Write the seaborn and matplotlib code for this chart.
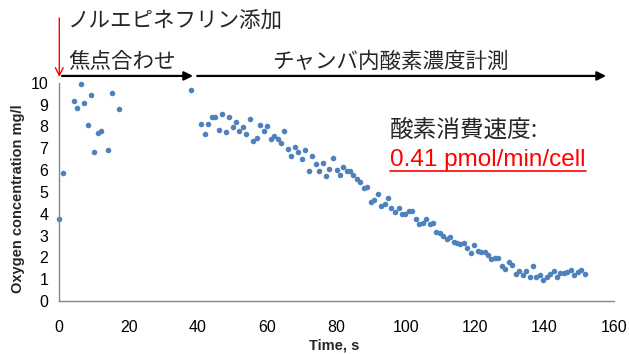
import matplotlib
matplotlib.use("Agg")
import matplotlib.pyplot as plt
from matplotlib.lines import Line2D
import seaborn as sns
import pandas as pd

# Oxygen readings during focusing (s, mg/l)
focus_time = [0.0, 1.2, 4.2, 5.1, 6.2, 7.1, 8.2, 9.2, 10.1, 11.1, 12.1, 14.1, 15.1, 17.1, 38.0]
focus_o2 = [3.75, 5.85, 9.15, 8.83, 9.94, 9.06, 8.06, 9.42, 6.83, 7.70, 7.80, 6.90, 9.53, 8.78, 9.67]

# Oxygen readings during chamber measurement (s, mg/l)
meas_time = [41.0, 42.0, 43.0, 44.1, 45.0, 46.1, 47.0, 48.1, 49.0, 50.0,
             51.0, 52.0, 53.0, 54.0, 55.0, 56.0, 57.0, 57.9, 59.0, 60.0,
             61.0, 62.0, 63.0, 64.0, 64.9, 66.0, 67.0, 68.0, 69.0, 70.0,
             70.9, 72.0, 72.9, 74.0, 74.9, 76.0, 77.0, 77.9, 78.9, 80.0,
             80.9, 82.0, 82.9, 83.9, 84.8, 85.8, 86.9, 87.9, 88.8, 89.9,
             90.8, 91.9, 92.8, 93.9, 94.9, 95.8, 96.9, 97.9, 98.8, 99.8,
             100.8, 101.9, 102.9, 103.8, 104.9, 105.8, 106.9, 107.8, 108.8, 109.9,
             110.8, 111.8, 112.8, 113.8, 114.8, 115.7, 116.8, 117.8, 118.7, 119.8,
             120.7, 121.7, 122.8, 123.7, 124.7, 125.7, 126.7, 127.7, 128.7, 129.7,
             130.7, 131.7, 132.7, 133.7, 134.7, 135.8, 136.7, 137.7, 138.6, 139.6,
             140.7, 141.6, 142.7, 143.6, 144.6, 145.7, 146.6, 147.7, 148.6, 149.6,
             150.7, 151.7]
meas_o2 = [8.09, 7.65, 8.09, 8.43, 8.41, 7.83, 8.58, 7.74, 8.41, 7.96,
           8.18, 7.77, 7.98, 7.66, 8.35, 7.34, 7.48, 8.06, 7.80, 8.00,
           7.41, 7.57, 7.41, 7.24, 7.77, 6.98, 6.66, 7.05, 6.81, 6.49,
           6.90, 5.97, 6.63, 6.29, 5.96, 6.31, 5.74, 6.03, 6.54, 6.00,
           5.77, 6.14, 5.97, 5.96, 5.77, 5.57, 5.44, 5.18, 5.21, 4.55,
           4.61, 4.90, 4.37, 4.43, 4.72, 4.26, 4.06, 4.26, 3.99, 4.00,
           4.11, 4.12, 3.74, 3.51, 3.57, 3.74, 3.54, 3.56, 3.18, 3.10,
           2.98, 2.85, 2.95, 2.69, 2.64, 2.61, 2.64, 2.44, 2.20, 2.57,
           2.29, 2.24, 2.26, 2.09, 1.92, 1.97, 1.96, 1.62, 1.45, 1.79,
           1.66, 1.22, 1.36, 1.19, 1.39, 1.10, 1.60, 1.11, 1.19, 0.96,
           1.11, 1.24, 1.36, 1.11, 1.28, 1.30, 1.33, 1.42, 1.20, 1.33,
           1.42, 1.25]

x_ticks = [0, 20, 40, 60, 80, 100, 120, 140, 160]
y_ticks = [0, 1, 2, 3, 4, 5, 6, 7, 8, 9, 10]

# Phase markers (s)
drug_time = 0.0
focus_span = [0.8, 38.6]
meas_span = [39.8, 157.8]

rate_title = "酸素消費速度:"
rate_value = "0.41 pmol/min/cell"

sns.set_style("white")
plt.rcParams["font.family"] = ["Liberation Sans", "DejaVu Sans"]
jp_font = ["Noto Sans CJK JP", "DejaVu Sans"]

df = pd.DataFrame({"time": focus_time + meas_time, "o2": focus_o2 + meas_o2})

W, H = 629, 354
fig = plt.figure(figsize=(W / 100, H / 100), dpi=100)
ax = fig.add_axes([59.3 / W, 1 - 301 / H, (613.7 - 59.3) / W, (301 - 82.7) / H])

sns.scatterplot(data=df, x="time", y="o2", ax=ax, color="#4F81BD",
                s=16, linewidth=0, clip_on=False, legend=False)

ax.set_xlim(0, 160)
ax.set_ylim(0, 10)
ax.set_xticks(x_ticks)
ax.set_yticks(y_ticks)
for side in ["top", "right"]:
    ax.spines[side].set_visible(False)
for side in ["left", "bottom"]:
    ax.spines[side].set_color("#868686")
    ax.spines[side].set_linewidth(1.0)
ax.tick_params(axis="both", direction="out", length=4, width=1.0,
               color="#868686", labelsize=11.5, labelcolor="black")
ax.tick_params(axis="x", pad=10)
ax.tick_params(axis="y", pad=4)

ax.set_xlabel("")
ax.set_ylabel("")
fig.text(334 / W, 1 - 346 / H, "Time, s", ha="center", va="center",
         fontsize=10.5, fontweight="bold")
fig.text(18 / W, 1 - 199 / H, "Oxygen concentration mg/l", ha="center",
         va="center", rotation=90, fontsize=10.5, fontweight="bold")

# Drug addition arrow (red, open head)
ax.annotate("", xy=(drug_time, 10.26), xytext=(drug_time, 12.96),
            xycoords="data", textcoords="data", annotation_clip=False,
            arrowprops=dict(arrowstyle="->", color="red", lw=1.0,
                            mutation_scale=14, shrinkA=0, shrinkB=0))

# Phase arrows (black, filled heads)
arrow_y = 10.31
for span in (focus_span, meas_span):
    ax.annotate("", xy=(span[1], arrow_y), xytext=(span[0], arrow_y),
                xycoords="data", textcoords="data", annotation_clip=False,
                arrowprops=dict(arrowstyle="-|>", color="black", lw=1.6,
                                mutation_scale=13, shrinkA=0, shrinkB=0))

fig.text(68 / W, 1 - 22 / H, "ノルエピネフリン添加", ha="left", va="center",
         fontsize=15.5, family=jp_font)
fig.text(68 / W, 1 - 62 / H, "焦点合わせ", ha="left", va="center",
         fontsize=15.5, family=jp_font)
fig.text(272 / W, 1 - 62 / H, "チャンバ内酸素濃度計測", ha="left", va="center",
         fontsize=15.5, family=jp_font)
fig.text(390 / W, 1 - 130 / H, rate_title, ha="left", va="center",
         fontsize=17, family=jp_font)
rate_txt = fig.text(390 / W, 1 - 160 / H, rate_value, ha="left", va="center",
                    fontsize=17.5, color="red")

# Underline beneath the rate value
fig.canvas.draw()
bb = rate_txt.get_window_extent(renderer=fig.canvas.get_renderer())
uy = (H - 170.5) / H
fig.add_artist(Line2D([bb.x0 / W, bb.x1 / W], [uy, uy], color="red", lw=1.2,
                      transform=fig.transFigure))

fig.savefig("out.png", dpi=100)
